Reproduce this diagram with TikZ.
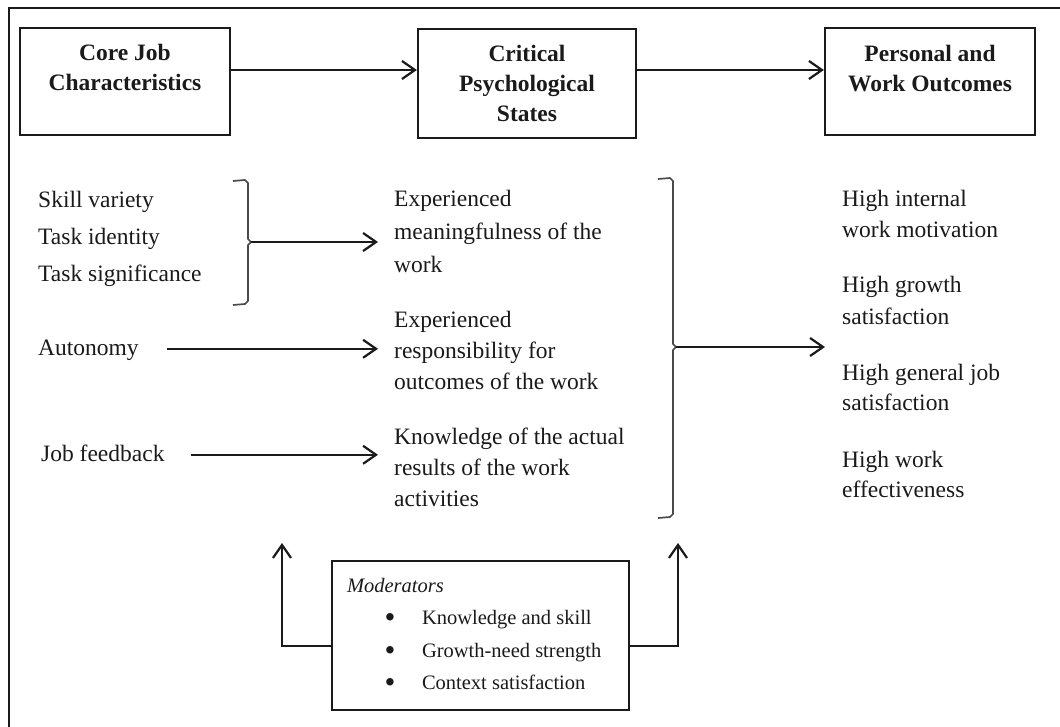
\documentclass[tikz,border=0pt]{standalone}
\usepackage{fontspec}
\setmainfont{Liberation Serif}
\usetikzlibrary{arrows.meta}

\definecolor{ink}{HTML}{1A1A1A}
\definecolor{brackgray}{HTML}{4A4A4A}

% multi-line text blocks; first argument is the line spacing
\newcommand\linesL[2]{{\fontsize{23.5}{#1}\selectfont\begin{tabular}[t]{@{}l@{}}#2\end{tabular}}}
\newcommand\linesC[2]{{\fontsize{23.5}{#1}\selectfont\bfseries\begin{tabular}[t]{@{}c@{}}#2\end{tabular}}}
\newcommand\moditem[1]{\hspace*{39pt}\makebox[8pt]{\raisebox{-3pt}{\fontsize{31}{31}\selectfont\textbullet}}\hspace*{28pt}#1}

\begin{document}
\begin{tikzpicture}[x=1pt,y=-1pt,
  hbox/.style={draw=ink, line width=2.2pt, inner sep=0pt, text=ink, text height=30pt},
  txt/.style={inner sep=0pt, anchor=base west, text=ink},
  arr/.style={draw=ink, line width=2.2pt, -{Straight Barb[length=13pt,width=18pt,line width=2.2pt]}},
  brk/.style={draw=brackgray, line width=1.7pt, line join=round},
  frame/.style={draw=ink, line width=2.6pt}]

\fill[white] (0,0) rectangle (1060,727);
\useasboundingbox (0,0) rectangle (1060,727);

% outer frame (top and left edges)
\draw[frame] (1062,8) -- (9,8) -- (9,729);

% heading boxes
\node[hbox, minimum width=210pt, minimum height=107pt, text depth=71pt] (cjc) at (125,81.5)
  {\linesC{30}{Core Job\\Characteristics}};
\node[hbox, minimum width=218pt, minimum height=109pt, text depth=73pt] (cps) at (527,83.5)
  {\linesC{30}{Critical\\Psychological\\States}};
\node[hbox, minimum width=210pt, minimum height=107pt, text depth=69pt] (pwo) at (930,81.5)
  {\linesC{30}{Personal and\\Work Outcomes}};

\coordinate (ytop) at (0,70);
\draw[arr] (cjc.east |- ytop) -- (cps.west |- ytop);
\draw[arr] (cps.east |- ytop) -- (pwo.west |- ytop);

% core job characteristics
\node[txt] (skills) at (38,208) {\linesL{37}{Skill variety\\Task identity\\Task significance}};
\node[txt] (aut) at (38,355) {\linesL{31}{Autonomy}};
\node[txt] (fb) at (41,461) {\linesL{31}{Job feedback}};

% critical psychological states
\node[txt] (mean) at (394,207) {\linesL{33}{Experienced\\meaningfulness of the\\work}};
\node[txt] (resp) at (394,327) {\linesL{31}{Experienced\\responsibility for\\outcomes of the work}};
\node[txt] (know) at (394,444) {\linesL{31}{Knowledge of the actual\\results of the work\\activities}};

% outcomes
\node[txt] (o1) at (842,207) {\linesL{31}{High internal\\work motivation}};
\node[txt] (o2) at (842,293) {\linesL{32}{High growth\\satisfaction}};
\node[txt] (o3) at (842,380) {\linesL{30}{High general job\\satisfaction}};
\node[txt] (o4) at (842,467) {\linesL{30}{High work\\effectiveness}};

% brackets
\draw[brk] (233,181) -- (245,180) -- (248,183) -- (248,239) -- (251,242) -- (248,245)
  -- (248,301) -- (245,304) -- (233,305);
\coordinate (c1) at (251,242);
\draw[brk] (658,179) -- (670,178) -- (673,181) -- (673,344) -- (676,347) -- (673,350)
  -- (673,514) -- (670,517) -- (658,518);
\coordinate (c2) at (676,347);

% links between the columns
\draw[arr, shorten >=16pt] (c1) -- (c1 -| mean.west);
\draw[arr, shorten <=28pt, shorten >=16pt] (aut.east) -- (aut.east -| resp.west);
\draw[arr, shorten <=26pt, shorten >=16pt] (fb.east) -- (fb.east -| know.west);
\draw[arr, shorten >=17pt] (c2) -- (c2 -| o1.west);

% moderators
\node[hbox, minimum width=297pt, minimum height=149pt, text depth=117pt] (mod) at (480.5,635.5)
  {{\fontsize{20.5}{32.5}\selectfont\begin{tabular}[t]{@{}p{267pt}@{}}
    \textit{Moderators}\\
    \moditem{Knowledge and skill}\\
    \moditem{Growth-need strength}\\
    \moditem{Context satisfaction}
  \end{tabular}}};

\coordinate (ml) at (282,543);
\coordinate (mr) at (678,543);
\draw[arr] ([yshift=-10.5pt]mod.west) -| (ml);
\draw[arr] ([yshift=-10.5pt]mod.east) -| (mr);
\end{tikzpicture}
\end{document}
